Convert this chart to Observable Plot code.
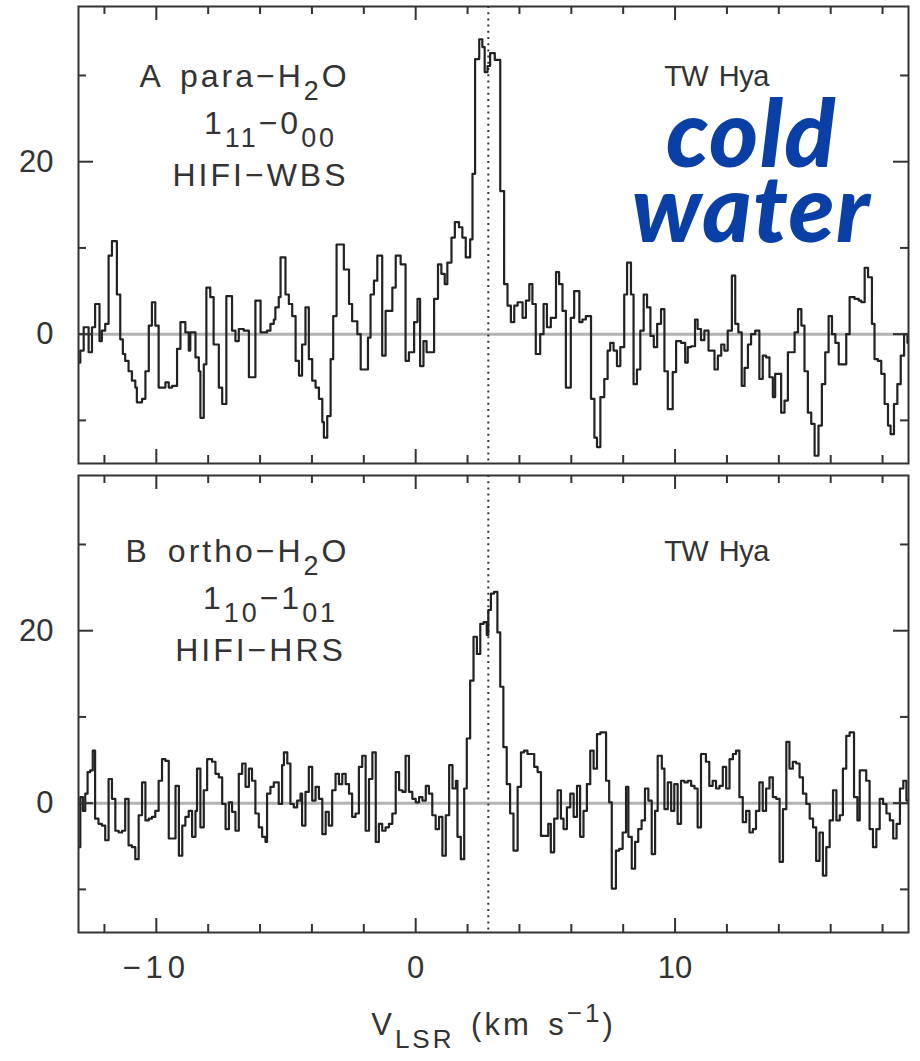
<!DOCTYPE html>
<html><head><meta charset="utf-8">
<script src="https://cdn.jsdelivr.net/npm/d3@7"></script>
<script src="https://cdn.jsdelivr.net/npm/@observablehq/plot@0.6"></script>
<style>
html,body{margin:0;padding:0;background:#fff;}
#chart svg{display:block;}
</style></head><body><div id="chart"></div>
<script>
// ---- data: [velocity (km/s, channel left edge), T_mb (mK)] ----
const paraSpectrum = [
[-13.0,-3.3],[-12.93,-1.9],[-12.80,0.8],[-12.61,-2.1],[-12.48,0.8],[-12.36,3.5],[-12.19,-0.8],[-12.10,0.4],[-11.97,1.2],[-11.84,9.1],[-11.71,10.8],[-11.52,4.6],[-11.39,-0.6],[-11.29,-2.3],[-11.20,-3.1],[-11.07,-4.3],[-10.94,-5.4],[-10.81,-6.2],[-10.75,-7.9],[-10.55,-7.5],[-10.42,-4.3],[-10.29,1.0],[-10.17,3.7],[-10.04,1.0],[-9.91,-6.2],[-9.65,-5.6],[-9.52,-6.2],[-9.39,-6.0],[-9.20,-1.7],[-9.07,1.4],[-8.88,0.2],[-8.75,-1.9],[-8.69,0.2],[-8.49,-2.7],[-8.36,-4.3],[-8.30,-9.7],[-8.17,-3.5],[-8.07,5.4],[-7.92,4.3],[-7.79,-1.2],[-7.59,-6.2],[-7.46,-8.1],[-7.30,4.4],[-7.08,0.4],[-6.95,-0.8],[-6.82,0.6],[-6.63,0.4],[-6.43,-5.0],[-6.18,3.9],[-5.98,0.2],[-5.73,0.4],[-5.60,1.2],[-5.47,1.7],[-5.41,3.1],[-5.28,4.3],[-5.21,8.9],[-5.02,4.6],[-4.89,3.5],[-4.76,2.1],[-4.63,-3.1],[-4.50,-4.8],[-4.38,-1.2],[-4.25,3.1],[-4.12,-2.9],[-3.99,-5.4],[-3.86,-6.2],[-3.73,-7.5],[-3.60,-10.2],[-3.54,-12.0],[-3.41,-9.5],[-3.28,-2.9],[-3.18,2.1],[-3.05,10.4],[-2.77,7.5],[-2.57,3.5],[-2.45,1.5],[-2.25,0],[-2.12,-4.1],[-1.84,-0.4],[-1.74,4.6],[-1.61,6.2],[-1.48,9.1],[-1.29,-2.5],[-1.16,2.7],[-0.90,5.4],[-0.77,9.1],[-0.58,8.1],[-0.39,-3.1],[-0.26,-2.1],[-0.06,1.4],[0.07,4.1],[0.17,-3.7],[0.30,-0.8],[0.42,-2.1],[0.71,4.1],[0.86,8.1],[0.99,7.0],[1.12,5.8],[1.22,8.3],[1.38,11.2],[1.51,13.0],[1.67,12.4],[1.80,11.2],[1.93,8.9],[2.10,11.0],[2.19,18.6],[2.29,31.9],[2.45,34.2],[2.57,33.3],[2.66,30.4],[2.77,31.1],[2.87,32.6],[3.05,31.8],[3.26,16.6],[3.41,5.8],[3.54,3.3],[3.67,1.4],[3.80,3.3],[3.93,3.7],[4.12,1.9],[4.25,3.9],[4.38,5.8],[4.50,3.5],[4.63,-2.3],[4.80,0],[4.93,3.5],[5.06,0.8],[5.21,1.9],[5.41,7.2],[5.53,5.8],[5.66,2.7],[5.79,-6.2],[5.98,1.9],[6.11,5.0],[6.31,1.4],[6.43,1.7],[6.56,2.1],[6.76,-7.5],[6.89,-12.0],[6.99,-13.1],[7.12,-7.3],[7.27,-5.2],[7.40,-1.9],[7.50,-1.0],[7.63,-1.9],[7.76,-3.7],[7.89,-1.5],[8.04,4.6],[8.15,8.3],[8.30,4.6],[8.40,-5.8],[8.53,-4.1],[8.66,0.4],[8.79,4.6],[8.92,3.1],[9.05,-0.2],[9.18,-1.5],[9.31,1.2],[9.46,2.9],[9.59,-4.3],[9.72,-8.7],[9.91,-4.4],[10.04,-0.8],[10.23,-1.0],[10.39,-3.3],[10.49,-1.5],[10.62,-1.4],[10.77,1.7],[10.87,0.6],[11.00,-0.7],[11.13,0.4],[11.29,-1.9],[11.52,-4.1],[11.65,-2.5],[11.78,-1.2],[11.90,-1.9],[12.03,0.4],[12.19,6.8],[12.32,1.2],[12.44,0.2],[12.57,-6.0],[12.68,-3.9],[12.81,-1.2],[12.93,0],[13.09,0.4],[13.25,-5.2],[13.38,-2.5],[13.51,-2.7],[13.64,-5.0],[13.77,-7.3],[13.86,-4.6],[14.09,-9.1],[14.22,-7.7],[14.35,-2.1],[14.61,0.2],[14.74,2.9],[14.87,1.0],[14.99,-4.3],[15.12,-9.1],[15.25,-10.4],[15.38,-14.1],[15.53,-10.6],[15.66,-5.8],[15.79,-2.1],[15.92,2.1],[16.05,0],[16.18,-1.0],[16.31,-3.5],[16.60,0],[16.73,4.3],[16.92,4.1],[17.08,3.9],[17.18,3.7],[17.31,7.7],[17.44,6.6],[17.59,1.2],[17.69,-2.9],[17.82,-3.1],[17.95,-4.6],[18.08,-8.1],[18.21,-10.6],[18.31,-11.6],[18.44,-8.1],[18.57,-5.8],[18.70,-2.5],[18.83,0],[18.96,-1.0],[19.0,-1.0]
];
const orthoSpectrum = [
[-13.0,-5.1],[-12.93,0.7],[-12.83,-0.9],[-12.74,1.1],[-12.65,3.6],[-12.55,3.8],[-12.45,6.1],[-12.36,-1.8],[-12.23,-2.4],[-12.10,-2.6],[-11.97,-4.3],[-11.84,2.8],[-11.71,0.5],[-11.58,-3.2],[-11.45,-3.4],[-11.32,-3.2],[-11.20,0.5],[-11.07,-4.9],[-10.94,-5.1],[-10.81,-6.5],[-10.68,-1.4],[-10.55,2.4],[-10.42,-2.0],[-10.29,-1.8],[-10.17,-1.6],[-10.04,-0.9],[-9.91,2.6],[-9.78,5.1],[-9.65,4.9],[-9.52,-4.1],[-9.26,2.0],[-9.13,-6.1],[-9.00,-2.6],[-8.88,-1.6],[-8.75,-0.9],[-8.62,-3.9],[-8.49,-0.9],[-8.43,4.0],[-8.30,-2.8],[-8.17,1.5],[-8.04,5.1],[-7.85,4.8],[-7.72,3.4],[-7.59,3.0],[-7.46,-0.1],[-7.33,-3.0],[-7.20,0.1],[-7.08,-1.0],[-6.95,-3.2],[-6.82,3.4],[-6.69,4.6],[-6.56,1.9],[-6.43,4.0],[-6.31,2.6],[-6.18,-1.2],[-6.05,-2.8],[-5.92,-3.9],[-5.79,-4.5],[-5.73,1.1],[-5.60,1.9],[-5.47,2.4],[-5.28,-0.1],[-5.15,4.4],[-5.08,5.9],[-4.95,4.6],[-4.83,-0.1],[-4.70,-0.5],[-4.57,0.3],[-4.44,1.1],[-4.38,-2.6],[-4.25,1.3],[-4.12,4.2],[-3.99,0.3],[-3.86,1.9],[-3.73,0.5],[-3.60,-3.6],[-3.47,-1.0],[-3.35,-2.6],[-3.22,1.5],[-3.09,3.4],[-2.96,2.2],[-2.83,3.4],[-2.70,2.2],[-2.57,1.1],[-2.45,-1.6],[-2.32,-1.2],[-2.19,4.2],[-2.06,5.5],[-1.93,-3.2],[-1.80,2.8],[-1.67,5.9],[-1.54,-4.5],[-1.42,-2.4],[-1.29,-3.2],[-1.16,-2.8],[-1.03,-2.4],[-0.90,-1.2],[-0.77,3.6],[-0.64,1.5],[-0.51,1.3],[-0.39,5.5],[-0.26,1.3],[-0.13,0.5],[0.00,0.1],[0.13,0.7],[0.26,0.3],[0.39,2.0],[0.51,1.1],[0.64,-1.4],[0.77,-3.0],[0.90,-1.6],[1.03,-6.1],[1.16,-1.4],[1.29,4.4],[1.42,1.7],[1.55,2.6],[1.61,-3.9],[1.74,-6.5],[1.87,1.7],[1.97,7.5],[2.10,14.2],[2.23,19.3],[2.36,17.3],[2.49,20.8],[2.62,21.0],[2.74,19.5],[2.80,22.4],[2.90,24.3],[3.02,24.5],[3.15,19.8],[3.26,13.5],[3.38,6.5],[3.51,2.2],[3.64,-1.2],[3.77,-5.5],[3.93,1.9],[4.06,5.9],[4.18,6.1],[4.31,5.7],[4.44,5.7],[4.57,4.2],[4.70,3.6],[4.83,-3.8],[5.11,-2.4],[5.21,-5.7],[5.34,-1.8],[5.47,1.5],[5.60,-1.8],[5.70,-3.0],[5.83,-0.5],[5.96,1.1],[6.09,-1.6],[6.22,2.0],[6.34,-3.9],[6.47,-0.9],[6.60,2.2],[6.73,6.1],[6.86,4.0],[6.99,8.0],[7.12,8.2],[7.34,2.6],[7.46,0.1],[7.56,-9.9],[7.72,-5.5],[7.85,-5.3],[7.98,-3.4],[8.11,1.9],[8.20,-3.9],[8.33,-7.6],[8.46,-4.5],[8.58,-3.0],[8.71,-2.0],[8.84,1.7],[8.97,0.3],[9.10,-5.9],[9.23,-0.9],[9.33,5.5],[9.49,4.0],[9.59,-0.7],[9.72,2.4],[9.85,-0.9],[9.97,2.2],[10.10,-2.4],[10.23,2.6],[10.36,2.4],[10.49,2.6],[10.62,2.0],[10.75,1.7],[10.87,-2.8],[11.00,5.7],[11.19,4.8],[11.32,2.0],[11.45,2.6],[11.58,1.7],[11.71,2.0],[11.84,4.2],[11.97,1.7],[12.10,5.1],[12.23,5.7],[12.35,6.1],[12.48,0.7],[12.61,-2.2],[12.74,-0.9],[12.87,-3.4],[13.00,-3.0],[13.12,-0.9],[13.25,2.4],[13.38,-0.9],[13.51,1.7],[13.64,3.0],[13.77,0.7],[13.90,0.5],[14.03,-6.8],[14.16,-0.7],[14.29,7.1],[14.41,4.0],[14.54,4.8],[14.67,4.6],[14.80,3.0],[14.93,1.1],[15.06,-0.1],[15.19,-1.8],[15.32,-2.8],[15.44,-6.7],[15.57,-3.4],[15.70,-8.4],[15.83,-5.1],[15.96,-2.0],[16.09,1.5],[16.22,-2.0],[16.35,-1.4],[16.47,4.0],[16.60,7.8],[16.73,8.2],[16.90,0.7],[17.03,-2.0],[17.12,3.8],[17.37,2.6],[17.50,-3.0],[17.63,-5.1],[17.76,-3.0],[17.89,0.5],[18.02,-0.1],[18.15,-1.2],[18.28,-2.0],[18.41,-4.1],[18.54,-2.4],[18.67,1.7],[18.80,2.6],[18.92,0.3],[19.0,0.3]
];
const systemicVelocity = [2.8];
const xDomain = [-13, 19];
const yDomain = [-15, 38];
const xTicks = [-12, -10, -8, -6, -4, -2, 0, 2, 4, 6, 8, 10, 12, 14, 16, 18];
const xTickLabels = [-10, 0, 10];
const yTicks = [-10, 0, 10, 20, 30];
const yTickLabels = [0, 20];
const panelSpecies = ["A para−H{_2}O", "B ortho−H{_2}O"];
const panelTransition = ["1{_11}−0{_00}", "1{_10}−1{_01}"];
const panelInstrument = ["HIFI−WBS", "HIFI−HRS"];
const panelSource = ["TW Hya", "TW Hya"];
const headline = ["cold", "water"];
const xAxisTitle = "V{_LSR} (km s{^−1})";

// ---- layout ----
const W = 920, ML = 78, MR = 12, FH = 457, FW = W - ML - MR;
const INK = "#333";
const FONT = "'Liberation Sans', Arial, sans-serif";
const fmt = d => d < 0 ? "−" + Math.abs(d) : String(d);
const xMinor = xTicks.filter(d => !xTickLabels.includes(d));
const yMinor = yTicks.filter(d => !yTickLabels.includes(d));

function tickMarks() {
  const o = {stroke: INK, strokeWidth: 2};
  return [
    Plot.ruleX(xMinor, {...o, x: d => d, insetTop: FH - 8}),
    Plot.ruleX(xTickLabels, {...o, x: d => d, insetTop: FH - 14}),
    Plot.ruleX(xMinor, {...o, x: d => d, insetBottom: FH - 8}),
    Plot.ruleX(xTickLabels, {...o, x: d => d, insetBottom: FH - 14}),
    Plot.ruleY(yMinor, {...o, y: d => d, insetRight: FW - 8}),
    Plot.ruleY(yTickLabels, {...o, y: d => d, insetRight: FW - 15}),
    Plot.ruleY(yMinor, {...o, y: d => d, insetLeft: FW - 8}),
    Plot.ruleY(yTickLabels, {...o, y: d => d, insetLeft: FW - 15})
  ];
}

function panel(i, spectrum, opts) {
  const data = spectrum.map(([v, T]) => ({v, T}));
  const txt = (s, dx, dy, extra = {}) => Plot.text([s], {
    text: d => d, frameAnchor: "top-left", dx, dy, textAnchor: "middle", lineAnchor: "middle",
    fontSize: 32, fill: INK, fontFamily: FONT, ...extra
  });
  const marks = [
    Plot.ruleY([0], {stroke: "#b3b3b3", strokeWidth: 3}),
    Plot.ruleX(systemicVelocity, {stroke: INK, strokeWidth: 2, strokeDasharray: "2 4.2"}),
    Plot.line(data, {x: "v", y: "T", curve: "step-after", stroke: "#222", strokeWidth: 2.2, clip: true}),
    Plot.frame({stroke: INK, strokeWidth: 2}),
    ...tickMarks(),
    Plot.axisY(yTickLabels, {anchor: "left", tickSize: 0, tickPadding: 25, fontSize: 31, label: null, tickFormat: fmt}),
    txt(panelSpecies[i], opts.dxSpecies, opts.dyRow),
    txt(panelTransition[i], 192, opts.dyRow + 47),
    txt(panelInstrument[i], 182, opts.dyRow + 99),
    txt(panelSource[i], 638, opts.dyRow, {fontSize: 29})
  ];
  if (opts.headline) {
    marks.push(txt(headline.join("\n"), 673, 174, {
      fontSize: 94, lineHeight: 0.8, fill: "#0a3fa6",
      fontFamily: "Lato, 'Open Sans', sans-serif", fontWeight: 900, fontStyle: "italic"
    }));
  }
  if (opts.xaxis) {
    marks.push(Plot.axisX(xTickLabels, {anchor: "bottom", tickSize: 0, tickPadding: 23, fontSize: 31, label: null, tickFormat: fmt}));
    marks.push(Plot.text([xAxisTitle], {text: d => d, frameAnchor: "bottom", dy: 93, lineAnchor: "middle", textAnchor: "middle", fontSize: 31, fill: INK, fontFamily: FONT}));
  }
  return Plot.plot({
    width: W, height: opts.height,
    marginTop: 6, marginBottom: opts.height - 6 - FH, marginLeft: ML, marginRight: MR,
    x: {domain: xDomain, axis: null},
    y: {domain: yDomain, axis: null},
    style: {fontFamily: FONT, color: INK, background: "#fff", overflow: "visible"},
    marks
  });
}

// letter/word spacing of the typewriter-like labels (applied to the rendered text)
function spacing(raw) {
  if ([...panelSpecies, ...panelTransition, ...panelInstrument].includes(raw)) return ["3px", "6px"];
  if (panelSource.includes(raw)) return ["-0.5px", "3px"];
  if (raw === headline.join("")) return ["1.5px", "0px"];
  if (raw === xAxisTitle) return ["3px", "5px"];
  if (raw.startsWith("−")) return ["5px", "0px"];
  return null;
}

// sub/superscripts written as {_...} and {^...} become shifted tspans
function richText(svg) {
  d3.select(svg).selectAll("text").each(function () {
    const s = this.textContent;
    const sp = spacing(s);
    if (sp) { this.style.letterSpacing = sp[0]; this.style.wordSpacing = sp[1]; }
    if (!/\{[_^]/.test(s)) return;
    const holder = this.closest("[font-size]");
    const fs = parseFloat(this.getAttribute("font-size") || (holder && holder.getAttribute("font-size")) || 16);
    this.textContent = "";
    const re = /\{([_^])([^}]*)\}/g;
    let last = 0, m, shift = 0;
    const add = (t, kind) => {
      if (!t) return;
      const ts = document.createElementNS("http://www.w3.org/2000/svg", "tspan");
      const target = kind === "_" ? 0.42 * fs : kind === "^" ? -0.42 * fs : 0;
      if (target - shift !== 0) ts.setAttribute("dy", (target - shift).toFixed(2));
      shift = target;
      if (kind) ts.setAttribute("font-size", (0.84 * fs).toFixed(1));
      ts.textContent = t;
      this.appendChild(ts);
    };
    while ((m = re.exec(s))) { add(s.slice(last, m.index), null); add(m[2], m[1]); last = re.lastIndex; }
    add(s.slice(last), null);
  });
  return svg;
}

const topPanel = richText(panel(0, paraSpectrum, {height: 469, dyRow: 70, dxSpecies: 166, headline: true}));
const bottomPanel = richText(panel(1, orthoSpectrum, {height: 592, dyRow: 76, dxSpecies: 159, xaxis: true}));
document.getElementById("chart").append(topPanel, bottomPanel);
</script>
</body></html>
